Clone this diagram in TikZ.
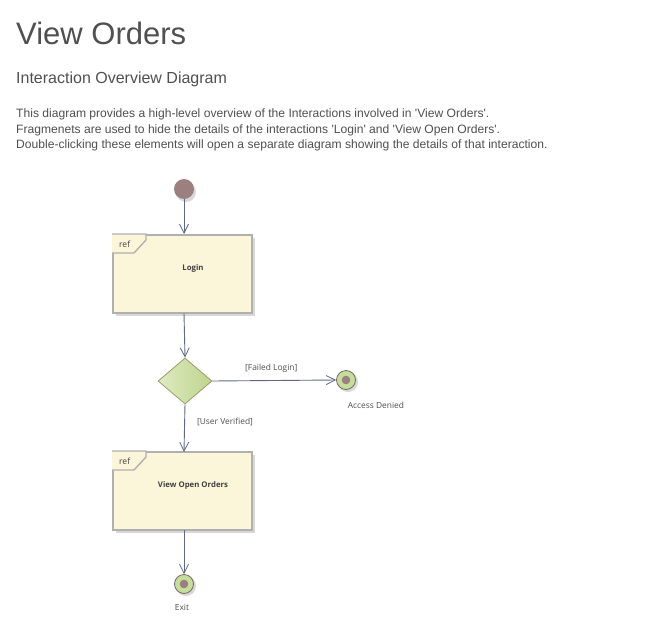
\documentclass[tikz,border=0pt]{standalone}
\usepackage{fontspec}
\setmainfont{Liberation Sans}
\newfontfamily\lblfont{Open Sans}
\usetikzlibrary{arrows.meta,shapes.geometric,calc}
\definecolor{txt}{HTML}{505050}
\definecolor{conn}{HTML}{5E6A85}
\definecolor{framefill}{HTML}{FBF6DA}
\definecolor{frameline}{HTML}{B0B0B0}
\definecolor{mauve}{HTML}{9C8080}
\definecolor{endfill}{HTML}{C6DE9C}
\definecolor{shadowc}{HTML}{D8D8D8}
\newcommand{\sq}{\textquotesingle}
\tikzset{
  conn/.style={draw=conn, line width=0.9pt, -{Straight Barb[length=9pt,width=9pt,line width=0.8pt]}},
  frame/.style={rectangle, draw=frameline, line width=2pt, fill=framefill, minimum width=139pt, minimum height=78pt, inner sep=0pt},
  lbl/.style={font=\lblfont\fontsize{8.4}{10}\selectfont, text=txt, inner sep=0pt},
  blbl/.style={font=\lblfont\bfseries\fontsize{7.8}{9}\selectfont, text=txt!80!black, inner sep=0pt},
  desc/.style={anchor=base west, inner sep=0pt, text=txt, font=\fontsize{12.1}{15}\selectfont},
  initnode/.style={circle, fill=mauve, minimum size=20pt, inner sep=0pt},
  finalnode/.style={circle, draw=mauve!80!black, line width=0.8pt, fill=endfill, minimum size=19pt, inner sep=0pt},
}
\begin{document}
\begin{tikzpicture}[x=1pt,y=-1pt]
\useasboundingbox[fill=white] (0,0) rectangle (645,626);
% header
\node[anchor=base west, inner sep=0pt, text=txt, font=\fontsize{31}{36}\selectfont] (title) at (16,45) {View Orders};
\node[anchor=base west, inner sep=0pt, text=txt, font=\fontsize{16}{19}\selectfont] (sub) at (16,84) {Interaction Overview Diagram};
\node[desc] (d1) at (16,117.5) {This diagram provides a high-level overview of the Interactions involved in \sq View Orders\sq.};
\node[desc] (d2) at (16,133) {Fragmenets are used to hide the details of the interactions \sq Login\sq\ and \sq View Open Orders\sq.};
\node[desc] (d3) at (16,148.5) {Double-clicking these elements will open a separate diagram showing the details of that interaction.};
% shadows
\fill[shadowc] (186,192) circle (10);
\fill[shadowc] (116,238) rectangle (255,316);
\fill[shadowc] (116,455) rectangle (255,533);
\fill[shadowc] (348,382) circle (10);
\fill[shadowc] (186,586) circle (10);
% nodes
\node[initnode] (init) at (184,189) {};
\node[frame] (login) at (182.5,274) {};
\node[frame] (voo) at (182.5,491) {};
\node[diamond, draw=black!45!olive!60, line width=0.8pt, left color=endfill!60!white, right color=endfill!90!olive, minimum width=54pt, minimum height=46pt, inner sep=0pt, aspect=1.17] (dec) at (185,381) {};
\node[finalnode] (denied) at (346,380) {};
\fill[mauve] (denied.center) circle (4.3);
\node[finalnode] (exit) at (184,584) {};
\fill[mauve] (exit.center) circle (4.3);
% ref tabs
\foreach \f in {login,voo}{
  \draw[frameline, line width=1.4pt, fill=framefill] (\f.north west) -- ++(34,0) -- ++(0,6) -- ++(-12,13) -- ++(-22,0);
  \node[lbl, anchor=west, text=txt!80!black, font=\lblfont\fontsize{8.5}{9}\selectfont] at ($(\f.north west)+(7,10)$) {ref};
}
\node[blbl] (loginlbl) at (193,268) {Login};
\node[blbl] (voolbl) at (193,485) {View Open Orders};
% labels
\node[lbl] (deniedlbl) at (376,405) {Access Denied};
\node[lbl] (exitlbl) at (182,607) {Exit};
% connectors
\draw[conn] (init) -- (init |- login.north);
\draw[conn] (184,313) -- (dec.north);
\draw[conn] (dec.east) -- node[lbl, above=8pt, xshift=-3pt] (faillbl) {[Failed Login]} (denied.west);
\draw[conn] (dec.south) -- (184,452);
\node[lbl] (verlbl) at (225,422) {[User Verified]};
\draw[conn] (184,530) -- (exit.north);
\end{tikzpicture}
\end{document}
